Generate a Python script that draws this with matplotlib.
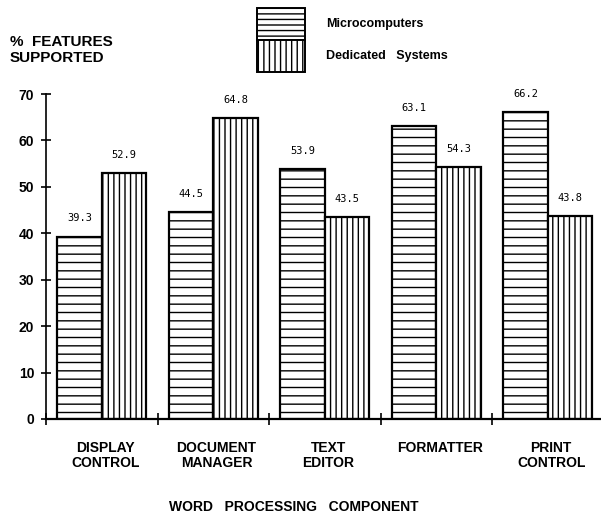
import matplotlib
matplotlib.use("Agg")
import matplotlib.pyplot as plt
from matplotlib.patches import Patch
import numpy as np

categories = ["DISPLAY\nCONTROL", "DOCUMENT\nMANAGER", "TEXT\nEDITOR", "FORMATTER", "PRINT\nCONTROL"]
micro = [39.3, 44.5, 53.9, 63.1, 66.2]
dedicated = [52.9, 64.8, 43.5, 54.3, 43.8]
series_names = ["Microcomputers", "Dedicated   Systems"]
yticks = [0, 10, 20, 30, 40, 50, 60, 70]

plt.rcParams['hatch.linewidth'] = 1.0
BOLD = dict(family="Liberation Sans", weight="bold")

fig = plt.figure(figsize=(6.01, 5.16), dpi=100)
W, H = 601, 516
ax = fig.add_axes([46 / W, 97 / H, (600 - 46) / W, (419 - 94) / H])

x = np.arange(len(categories))
bw = 0.4
b1 = ax.bar(x - bw / 2, micro, bw, facecolor="white", edgecolor="black",
            linewidth=1.6, hatch="--")
b2 = ax.bar(x + bw / 2, dedicated, bw, facecolor="white", edgecolor="black",
            linewidth=1.6, hatch="|||")

for bars, vals in ((b1, micro), (b2, dedicated)):
    for r, v in zip(bars, vals):
        ax.annotate(f"{v:.1f}", (r.get_x() + r.get_width() / 2, v),
                    xytext=(0, 13), textcoords="offset points",
                    ha="center", va="center", fontsize=7.5,
                    family="DejaVu Sans Mono")

ax.set_xlim(-0.5, -0.5 + 554 / 111.5)
ax.set_ylim(0, 70)
ax.set_xticks(np.arange(len(categories)) - 0.5)
ax.set_xticklabels([])
ax.set_yticks(yticks)
ax.set_yticklabels([str(t) for t in yticks], fontsize=10, **BOLD)
ax.tick_params(axis="x", direction="inout", length=8, width=1.2)
ax.tick_params(axis="y", direction="inout", length=7, width=1.2, pad=5)
for s in ("top", "right"):
    ax.spines[s].set_visible(False)
ax.spines["left"].set_linewidth(1.2)
ax.spines["bottom"].set_linewidth(1.6)

for i, c in enumerate(categories):
    ax.annotate(c, (i + 0.03, 0), xycoords=("data", "axes fraction"),
                xytext=(0, -16), textcoords="offset points",
                ha="center", va="top", fontsize=10, linespacing=1.1,
                multialignment="center", **BOLD)

fig.text(294 / W, 1 - 507 / H, "WORD   PROCESSING   COMPONENT",
         ha="center", va="center", fontsize=10, **BOLD)
fig.text(10 / W, 1 - 50 / H, "%  FEATURES\nSUPPORTED", ha="left", va="center",
         fontsize=11, linespacing=1.12, **BOLD)

handles = [Patch(facecolor="white", edgecolor="black", hatch="---", linewidth=1.4),
           Patch(facecolor="white", edgecolor="black", hatch="|||", linewidth=1.4)]
fig.legend(handles, series_names, loc="upper left",
           bbox_to_anchor=(257 / W, 1 - 8 / H), frameon=False,
           prop=dict(family="Liberation Sans", weight="bold", size=9),
           handlelength=3.8, handleheight=3.555, labelspacing=0.0,
           handletextpad=1.7, borderpad=0, borderaxespad=0)

fig.savefig("out.png", dpi=100)
